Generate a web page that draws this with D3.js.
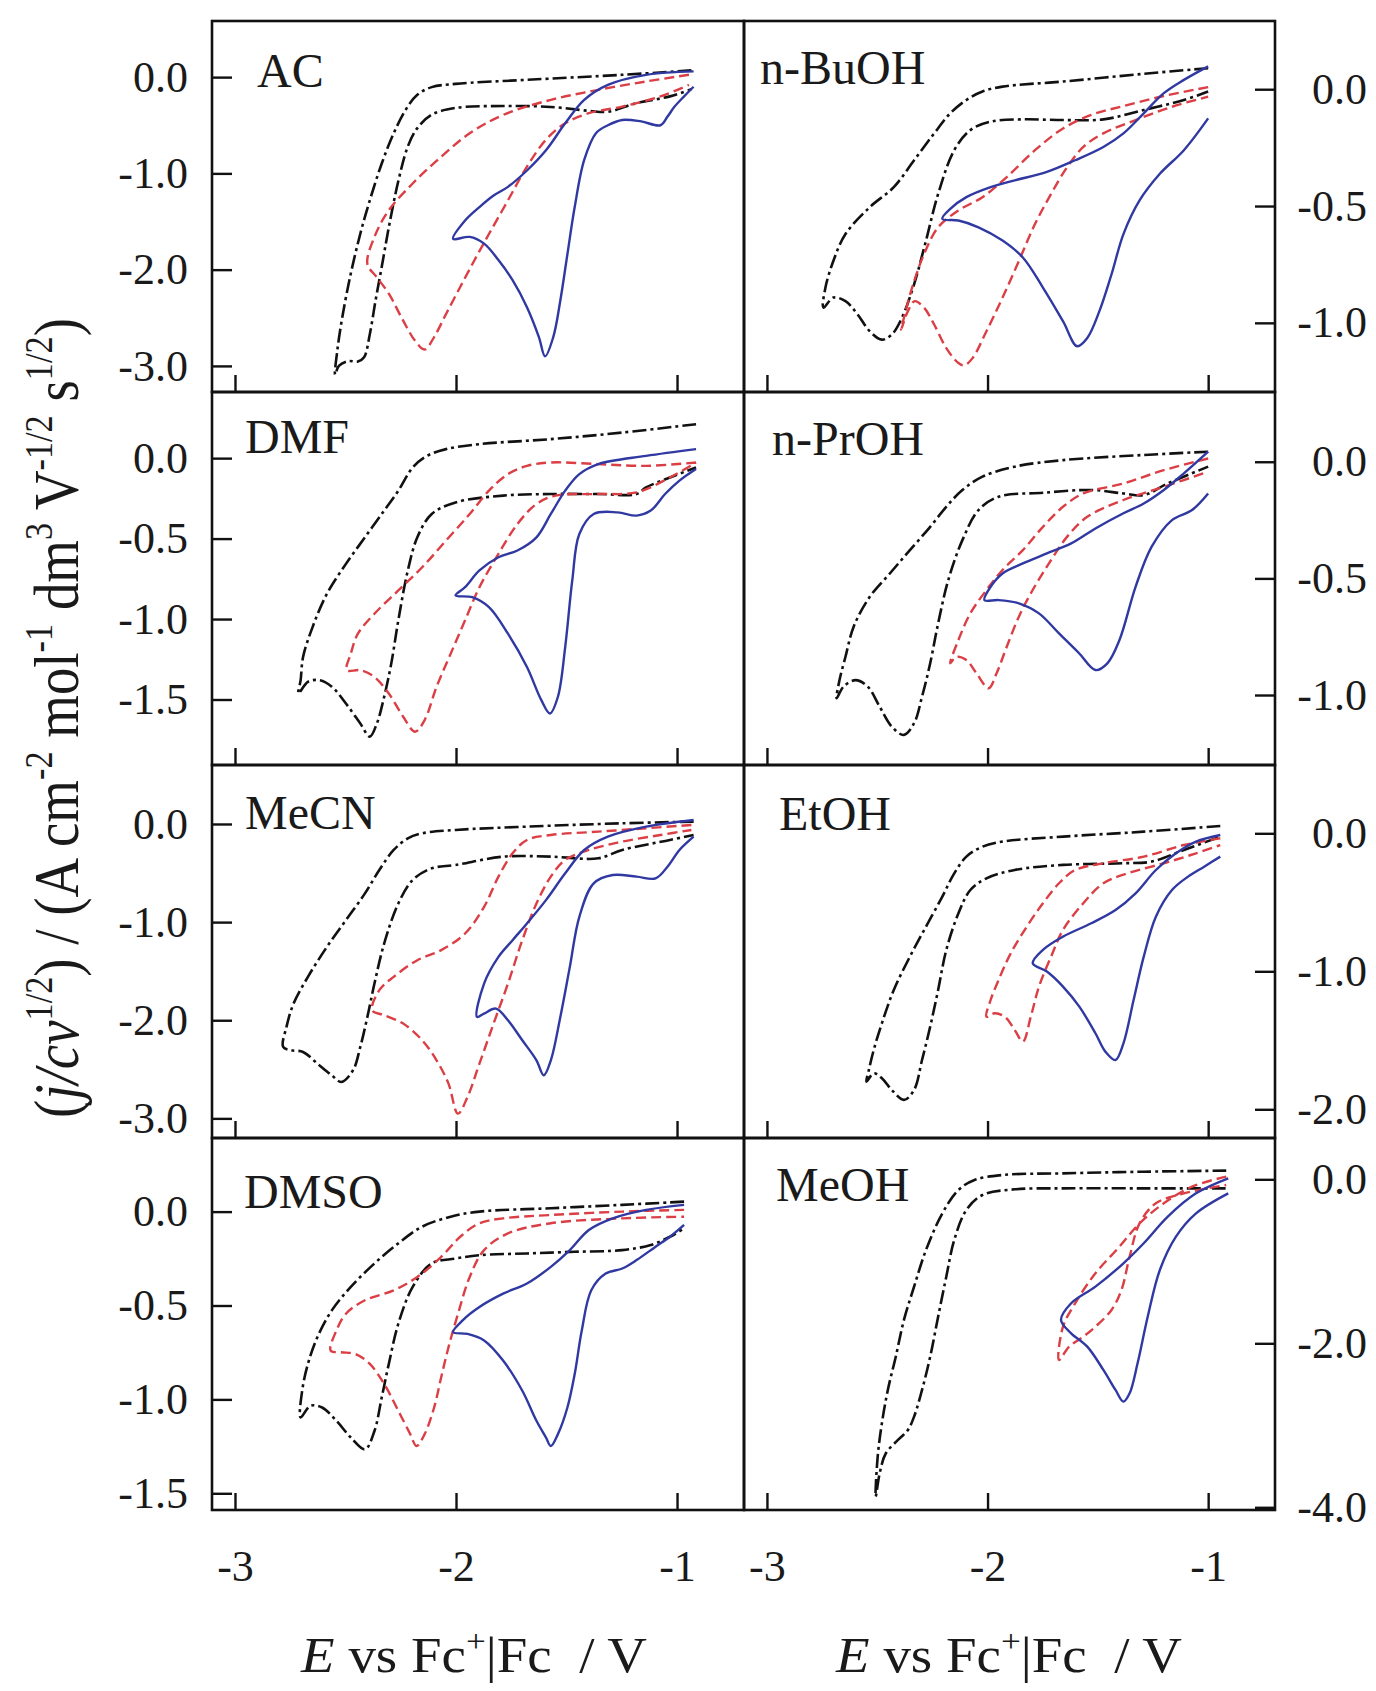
<!DOCTYPE html>
<html>
<head>
<meta charset="utf-8">
<script src="https://cdn.jsdelivr.net/npm/d3@7"></script>
<style>
  body { margin: 0; background: #fff; }
  svg text { font-family: "Liberation Serif", "DejaVu Serif", serif; fill: #1a1a1a; }
</style>
</head>
<body>
<svg id="chart" width="1376" height="1691"></svg>
<script>
// panel order: row by row, left then right
const panelNames = ["AC", "n-BuOH", "DMF", "n-PrOH", "MeCN", "EtOH", "DMSO", "MeOH"];
const yDomains = [[-3.271, 0.583], [-1.296, 0.292], [-1.907, 0.411], [-1.3, 0.299],
                  [-3.2, 0.601], [-2.208, 0.495], [-1.589, 0.392], [-4.033, 0.504]];
const yTicks = [[0, -1, -2, -3], [0, -0.5, -1], [0, -0.5, -1, -1.5], [0, -0.5, -1],
                [0, -1, -2, -3], [0, -1, -2], [0, -0.5, -1, -1.5], [0, -2, -4]];
const xDomain = [-3.104, -0.697];
const xTicks = [-3, -2, -1];

// each curve: [E / V, j/cv^1/2]
const acBlack = [[-0.935,0.07],[-1.248,0.024],[-1.679,-0.028],[-2.002,-0.07],[-2.11,-0.104],[-2.175,-0.184],[-2.228,-0.34],[-2.282,-0.584],[-2.336,-0.897],[-2.39,-1.28],[-2.433,-1.627],[-2.476,-2.04],[-2.515,-2.5],[-2.537,-2.84],[-2.547,-3.09],[-2.53,-3.0],[-2.487,-2.95],[-2.444,-2.955],[-2.416,-2.91],[-2.39,-2.67],[-2.364,-2.32],[-2.336,-1.97],[-2.304,-1.56],[-2.26,-1.07],[-2.218,-0.72],[-2.175,-0.53],[-2.11,-0.39],[-2.002,-0.32],[-1.787,-0.3],[-1.571,-0.31],[-1.399,-0.35],[-1.313,-0.36],[-1.183,-0.27],[-1.032,-0.2],[-0.935,-0.125]];
const acRed = [[-0.946,0.024],[-1.14,-0.045],[-1.356,-0.132],[-1.571,-0.236],[-1.787,-0.393],[-1.938,-0.584],[-2.067,-0.827],[-2.196,-1.105],[-2.304,-1.383],[-2.369,-1.66],[-2.401,-1.94],[-2.358,-2.08],[-2.304,-2.25],[-2.239,-2.53],[-2.185,-2.74],[-2.142,-2.83],[-2.099,-2.7],[-2.045,-2.46],[-1.981,-2.18],[-1.916,-1.9],[-1.851,-1.63],[-1.765,-1.28],[-1.679,-0.93],[-1.593,-0.65],[-1.506,-0.48],[-1.399,-0.375],[-1.248,-0.306],[-1.075,-0.2],[-0.946,-0.08]];
const acBlue = [[-0.925,0.06],[-1.14,0.024],[-1.313,-0.08],[-1.42,-0.236],[-1.506,-0.48],[-1.593,-0.76],[-1.679,-0.97],[-1.765,-1.14],[-1.83,-1.23],[-1.894,-1.35],[-1.959,-1.49],[-2.013,-1.68],[-1.938,-1.66],[-1.873,-1.73],[-1.808,-1.9],[-1.744,-2.11],[-1.679,-2.39],[-1.625,-2.7],[-1.597,-2.9],[-1.56,-2.7],[-1.528,-2.32],[-1.496,-1.84],[-1.463,-1.35],[-1.42,-0.86],[-1.366,-0.58],[-1.313,-0.5],[-1.248,-0.445],[-1.162,-0.46],[-1.075,-0.5],[-1.043,-0.41],[-1.011,-0.306],[-0.968,-0.2],[-0.925,-0.1]];

const buBlack = [[-1.0,0.09],[-1.292,0.066],[-1.657,0.033],[-1.932,0.011],[-2.023,-0.01],[-2.096,-0.046],[-2.169,-0.103],[-2.242,-0.189],[-2.333,-0.304],[-2.425,-0.419],[-2.534,-0.505],[-2.644,-0.62],[-2.699,-0.735],[-2.735,-0.85],[-2.744,-0.935],[-2.699,-0.892],[-2.644,-0.907],[-2.589,-0.964],[-2.534,-1.036],[-2.479,-1.072],[-2.434,-1.05],[-2.388,-0.978],[-2.333,-0.835],[-2.279,-0.648],[-2.224,-0.448],[-2.151,-0.261],[-2.078,-0.175],[-1.986,-0.139],[-1.84,-0.129],[-1.657,-0.132],[-1.475,-0.129],[-1.292,-0.089],[-1.11,-0.046],[-1.0,-0.01]];
const buRed = [[-1.0,0.009],[-1.201,-0.029],[-1.384,-0.072],[-1.53,-0.11],[-1.658,-0.168],[-1.785,-0.261],[-1.913,-0.376],[-2.023,-0.462],[-2.132,-0.519],[-2.224,-0.591],[-2.288,-0.706],[-2.342,-0.849],[-2.379,-0.978],[-2.392,-1.029],[-2.361,-0.95],[-2.33,-0.907],[-2.288,-0.935],[-2.242,-1.007],[-2.187,-1.108],[-2.132,-1.172],[-2.105,-1.182],[-2.068,-1.151],[-2.005,-1.036],[-1.932,-0.892],[-1.858,-0.735],[-1.785,-0.577],[-1.712,-0.448],[-1.639,-0.333],[-1.566,-0.247],[-1.475,-0.189],[-1.329,-0.132],[-1.164,-0.075],[-1.0,-0.032]];
const buBlue = [[-1.0,0.098],[-1.11,0.04],[-1.201,-0.017],[-1.292,-0.103],[-1.384,-0.189],[-1.475,-0.247],[-1.603,-0.304],[-1.731,-0.354],[-1.877,-0.39],[-1.986,-0.419],[-2.096,-0.462],[-2.169,-0.512],[-2.205,-0.555],[-2.132,-0.562],[-2.041,-0.591],[-1.932,-0.648],[-1.84,-0.72],[-1.749,-0.849],[-1.658,-0.993],[-1.594,-1.1],[-1.548,-1.065],[-1.493,-0.95],[-1.438,-0.792],[-1.384,-0.62],[-1.311,-0.476],[-1.219,-0.362],[-1.11,-0.261],[-1.0,-0.125]];

const dmfBlack = [[-0.914,0.211],[-1.248,0.159],[-1.571,0.118],[-1.894,0.087],[-2.045,0.056],[-2.131,0.014],[-2.196,-0.058],[-2.261,-0.202],[-2.325,-0.326],[-2.412,-0.492],[-2.498,-0.657],[-2.584,-0.843],[-2.649,-1.05],[-2.692,-1.236],[-2.703,-1.38],[-2.713,-1.463],[-2.67,-1.39],[-2.616,-1.38],[-2.562,-1.42],[-2.498,-1.525],[-2.433,-1.649],[-2.39,-1.731],[-2.358,-1.649],[-2.325,-1.483],[-2.293,-1.277],[-2.261,-1.008],[-2.218,-0.698],[-2.175,-0.492],[-2.11,-0.347],[-2.002,-0.275],[-1.787,-0.233],[-1.571,-0.223],[-1.356,-0.223],[-1.183,-0.223],[-1.14,-0.182],[-1.032,-0.12],[-0.914,-0.058]];
const dmfRed = [[-0.914,-0.027],[-1.14,-0.048],[-1.356,-0.037],[-1.571,-0.027],[-1.679,-0.048],[-1.765,-0.099],[-1.851,-0.202],[-1.938,-0.347],[-2.045,-0.512],[-2.153,-0.678],[-2.261,-0.822],[-2.369,-0.967],[-2.444,-1.091],[-2.476,-1.215],[-2.494,-1.318],[-2.433,-1.318],[-2.369,-1.36],[-2.304,-1.463],[-2.239,-1.607],[-2.185,-1.7],[-2.142,-1.628],[-2.088,-1.421],[-2.024,-1.215],[-1.959,-1.008],[-1.894,-0.802],[-1.808,-0.595],[-1.722,-0.409],[-1.636,-0.285],[-1.55,-0.233],[-1.356,-0.223],[-1.183,-0.213],[-1.032,-0.12],[-0.914,-0.027]];
const dmfBlue = [[-0.914,0.056],[-1.14,0.014],[-1.356,-0.037],[-1.442,-0.099],[-1.506,-0.202],[-1.571,-0.347],[-1.636,-0.492],[-1.722,-0.574],[-1.808,-0.616],[-1.894,-0.698],[-1.959,-0.802],[-2.002,-0.853],[-1.927,-0.864],[-1.851,-0.926],[-1.765,-1.091],[-1.679,-1.298],[-1.614,-1.504],[-1.575,-1.587],[-1.539,-1.483],[-1.506,-1.174],[-1.474,-0.76],[-1.442,-0.471],[-1.377,-0.347],[-1.269,-0.337],[-1.183,-0.357],[-1.119,-0.326],[-1.054,-0.223],[-0.989,-0.14],[-0.914,-0.068]];

const prBlack = [[-1.0,0.043],[-1.292,0.029],[-1.657,0.007],[-1.877,-0.021],[-2.023,-0.064],[-2.114,-0.121],[-2.187,-0.193],[-2.26,-0.279],[-2.352,-0.379],[-2.443,-0.479],[-2.534,-0.579],[-2.607,-0.707],[-2.644,-0.836],[-2.671,-0.936],[-2.684,-1.014],[-2.653,-0.964],[-2.598,-0.936],[-2.543,-0.964],[-2.489,-1.05],[-2.434,-1.136],[-2.379,-1.171],[-2.333,-1.121],[-2.297,-1.007],[-2.26,-0.864],[-2.224,-0.693],[-2.178,-0.507],[-2.114,-0.336],[-2.041,-0.207],[-1.95,-0.15],[-1.749,-0.133],[-1.53,-0.121],[-1.384,-0.136],[-1.292,-0.143],[-1.183,-0.093],[-1.0,-0.021]];
const prRed = [[-1.0,0.014],[-1.201,-0.036],[-1.384,-0.093],[-1.566,-0.136],[-1.658,-0.193],[-1.749,-0.279],[-1.84,-0.379],[-1.932,-0.464],[-2.005,-0.55],[-2.078,-0.65],[-2.132,-0.764],[-2.169,-0.864],[-2.142,-0.836],[-2.096,-0.85],[-2.05,-0.907],[-1.995,-0.971],[-1.959,-0.907],[-1.913,-0.793],[-1.858,-0.664],[-1.804,-0.564],[-1.731,-0.45],[-1.639,-0.321],[-1.548,-0.236],[-1.384,-0.164],[-1.201,-0.107],[-1.0,-0.043]];
const prBlue = [[-1.0,0.043],[-1.11,-0.05],[-1.201,-0.121],[-1.292,-0.179],[-1.384,-0.221],[-1.511,-0.286],[-1.621,-0.35],[-1.731,-0.393],[-1.84,-0.436],[-1.932,-0.479],[-1.986,-0.536],[-2.014,-0.593],[-1.95,-0.593],[-1.858,-0.607],[-1.767,-0.65],[-1.676,-0.736],[-1.585,-0.821],[-1.511,-0.893],[-1.457,-0.864],[-1.402,-0.764],[-1.329,-0.536],[-1.256,-0.364],[-1.164,-0.25],[-1.073,-0.207],[-1.0,-0.136]];

const mecnBlack = [[-0.925,0.024],[-1.248,0.007],[-1.679,-0.027],[-2.002,-0.061],[-2.153,-0.095],[-2.218,-0.146],[-2.282,-0.265],[-2.347,-0.469],[-2.412,-0.707],[-2.498,-0.98],[-2.584,-1.252],[-2.67,-1.558],[-2.735,-1.83],[-2.767,-2.068],[-2.782,-2.272],[-2.746,-2.306],[-2.692,-2.323],[-2.627,-2.442],[-2.562,-2.561],[-2.519,-2.629],[-2.466,-2.51],[-2.433,-2.272],[-2.401,-1.966],[-2.369,-1.626],[-2.325,-1.218],[-2.261,-0.81],[-2.196,-0.571],[-2.11,-0.452],[-2.002,-0.418],[-1.787,-0.333],[-1.571,-0.333],[-1.356,-0.35],[-1.248,-0.265],[-1.032,-0.163],[-0.925,-0.112]];
const mecnRed = [[-0.935,-0.01],[-1.14,-0.044],[-1.356,-0.078],[-1.571,-0.112],[-1.679,-0.163],[-1.744,-0.299],[-1.808,-0.537],[-1.873,-0.844],[-1.959,-1.116],[-2.067,-1.286],[-2.175,-1.388],[-2.282,-1.558],[-2.347,-1.694],[-2.379,-1.898],[-2.325,-1.949],[-2.239,-2.034],[-2.153,-2.204],[-2.088,-2.408],[-2.034,-2.646],[-1.991,-2.952],[-1.948,-2.782],[-1.894,-2.442],[-1.83,-2.034],[-1.765,-1.626],[-1.7,-1.184],[-1.636,-0.81],[-1.571,-0.537],[-1.506,-0.367],[-1.399,-0.265],[-1.248,-0.18],[-1.075,-0.112],[-0.935,-0.061]];
const mecnBlue = [[-0.925,0.041],[-1.14,-0.027],[-1.313,-0.129],[-1.42,-0.265],[-1.506,-0.503],[-1.593,-0.776],[-1.679,-1.014],[-1.744,-1.184],[-1.808,-1.354],[-1.873,-1.626],[-1.905,-1.966],[-1.873,-1.932],[-1.819,-1.881],[-1.765,-2.0],[-1.7,-2.204],[-1.636,-2.408],[-1.603,-2.561],[-1.571,-2.408],[-1.528,-1.966],[-1.485,-1.456],[-1.442,-0.946],[-1.377,-0.605],[-1.291,-0.52],[-1.183,-0.537],[-1.097,-0.554],[-1.043,-0.435],[-0.989,-0.265],[-0.925,-0.129]];

const etBlack = [[-0.945,0.053],[-1.292,0.012],[-1.657,-0.024],[-1.932,-0.06],[-2.023,-0.097],[-2.096,-0.169],[-2.151,-0.29],[-2.205,-0.459],[-2.279,-0.676],[-2.352,-0.894],[-2.425,-1.135],[-2.479,-1.377],[-2.516,-1.57],[-2.538,-1.715],[-2.549,-1.8],[-2.516,-1.739],[-2.479,-1.775],[-2.434,-1.86],[-2.379,-1.932],[-2.333,-1.86],[-2.297,-1.643],[-2.26,-1.401],[-2.224,-1.135],[-2.187,-0.845],[-2.132,-0.58],[-2.078,-0.411],[-2.005,-0.326],[-1.877,-0.266],[-1.658,-0.229],[-1.384,-0.217],[-1.256,-0.205],[-1.11,-0.121],[-0.945,-0.024]];
const etRed = [[-0.945,-0.036],[-1.11,-0.085],[-1.292,-0.169],[-1.475,-0.217],[-1.603,-0.266],[-1.676,-0.362],[-1.749,-0.507],[-1.822,-0.676],[-1.895,-0.87],[-1.95,-1.063],[-1.986,-1.208],[-2.005,-1.329],[-1.968,-1.304],[-1.922,-1.329],[-1.877,-1.425],[-1.84,-1.51],[-1.804,-1.329],[-1.767,-1.111],[-1.712,-0.894],[-1.658,-0.7],[-1.566,-0.507],[-1.475,-0.362],[-1.366,-0.29],[-1.201,-0.217],[-1.055,-0.145],[-0.945,-0.085]];
const etBlue = [[-0.945,-0.012],[-1.055,-0.06],[-1.146,-0.145],[-1.237,-0.266],[-1.329,-0.435],[-1.42,-0.556],[-1.53,-0.652],[-1.658,-0.749],[-1.749,-0.845],[-1.795,-0.942],[-1.731,-1.002],[-1.658,-1.111],[-1.584,-1.256],[-1.511,-1.449],[-1.466,-1.582],[-1.42,-1.643],[-1.384,-1.522],[-1.338,-1.208],[-1.292,-0.894],[-1.237,-0.604],[-1.164,-0.411],[-1.091,-0.314],[-1.018,-0.242],[-0.945,-0.169]];

const dmsoBlack = [[-0.968,0.053],[-1.248,0.036],[-1.571,0.018],[-1.894,0.0],[-2.024,-0.027],[-2.153,-0.08],[-2.261,-0.169],[-2.369,-0.276],[-2.476,-0.401],[-2.562,-0.526],[-2.627,-0.668],[-2.67,-0.811],[-2.696,-0.954],[-2.703,-1.096],[-2.659,-1.034],[-2.606,-1.043],[-2.541,-1.114],[-2.476,-1.203],[-2.412,-1.266],[-2.369,-1.168],[-2.336,-0.989],[-2.304,-0.811],[-2.261,-0.597],[-2.196,-0.401],[-2.11,-0.276],[-2.002,-0.25],[-1.894,-0.232],[-1.679,-0.223],[-1.463,-0.214],[-1.248,-0.205],[-1.119,-0.178],[-1.032,-0.134],[-0.968,-0.089]];
const dmsoRed = [[-0.968,0.009],[-1.248,0.0],[-1.571,-0.018],[-1.787,-0.036],[-1.894,-0.062],[-1.981,-0.134],[-2.067,-0.241],[-2.175,-0.348],[-2.282,-0.419],[-2.412,-0.472],[-2.498,-0.544],[-2.541,-0.633],[-2.567,-0.74],[-2.519,-0.749],[-2.455,-0.758],[-2.39,-0.811],[-2.325,-0.918],[-2.261,-1.061],[-2.207,-1.185],[-2.179,-1.248],[-2.142,-1.185],[-2.099,-1.043],[-2.067,-0.882],[-2.034,-0.722],[-1.991,-0.544],[-1.938,-0.348],[-1.873,-0.205],[-1.765,-0.116],[-1.571,-0.062],[-1.248,-0.036],[-0.968,-0.027]];
const dmsoBlue = [[-0.968,0.036],[-1.14,0.009],[-1.291,-0.036],[-1.399,-0.098],[-1.485,-0.205],[-1.571,-0.294],[-1.679,-0.383],[-1.787,-0.437],[-1.894,-0.508],[-1.97,-0.579],[-2.013,-0.642],[-1.948,-0.651],[-1.873,-0.686],[-1.787,-0.793],[-1.7,-0.954],[-1.636,-1.114],[-1.593,-1.203],[-1.571,-1.248],[-1.539,-1.185],[-1.496,-1.043],[-1.463,-0.865],[-1.431,-0.633],[-1.388,-0.419],[-1.323,-0.33],[-1.248,-0.303],[-1.183,-0.258],[-1.097,-0.187],[-1.032,-0.134],[-0.968,-0.071]];

const meBlack = [[-0.918,0.106],[-1.292,0.093],[-1.658,0.073],[-1.932,0.053],[-2.059,-0.008],[-2.132,-0.13],[-2.205,-0.415],[-2.279,-0.862],[-2.333,-1.309],[-2.379,-1.715],[-2.416,-2.163],[-2.452,-2.569],[-2.479,-2.976],[-2.498,-3.382],[-2.507,-3.87],[-2.489,-3.585],[-2.461,-3.341],[-2.406,-3.179],[-2.361,-3.057],[-2.333,-2.894],[-2.297,-2.569],[-2.26,-2.163],[-2.224,-1.675],[-2.187,-1.187],[-2.151,-0.74],[-2.096,-0.374],[-2.023,-0.191],[-1.877,-0.122],[-1.658,-0.11],[-1.292,-0.11],[-0.918,-0.11]];
const meRed = [[-0.918,0.033],[-1.073,-0.089],[-1.201,-0.293],[-1.311,-0.537],[-1.402,-0.821],[-1.511,-1.146],[-1.603,-1.512],[-1.658,-1.797],[-1.676,-2.203],[-1.63,-2.041],[-1.566,-1.919],[-1.511,-1.797],[-1.438,-1.593],[-1.393,-1.35],[-1.356,-0.943],[-1.311,-0.537],[-1.237,-0.293],[-1.11,-0.171],[-0.918,-0.069]];
const meBlue = [[-0.909,0.012],[-1.055,-0.171],[-1.183,-0.455],[-1.292,-0.78],[-1.384,-1.024],[-1.511,-1.309],[-1.621,-1.512],[-1.667,-1.715],[-1.621,-1.878],[-1.548,-2.041],[-1.475,-2.325],[-1.42,-2.569],[-1.384,-2.711],[-1.356,-2.61],[-1.32,-2.244],[-1.274,-1.675],[-1.219,-1.106],[-1.146,-0.699],[-1.055,-0.415],[-0.909,-0.171]];

const blackCurves = [acBlack, buBlack, dmfBlack, prBlack, mecnBlack, etBlack, dmsoBlack, meBlack];
const redCurves = [acRed, buRed, dmfRed, prRed, mecnRed, etRed, dmsoRed, meRed];
const blueCurves = [acBlue, buBlue, dmfBlue, prBlue, mecnBlue, etBlue, dmsoBlue, meBlue];

// layout
const colX = [212, 744, 1275];
const rowY = [21, 392, 765, 1138, 1510];
const labelPos = [[257, 87], [760, 84], [245, 453], [772, 455], [245, 829], [779, 830], [244, 1208], [776, 1201]];
const FONT = '"Liberation Serif", "DejaVu Serif", serif';

const svg = d3.select("#chart");

panelNames.forEach(function (name, i) {
    let col = i % 2, row = Math.floor(i / 2);
    let x0 = colX[col], x1 = colX[col + 1];
    let y0 = rowY[row], y1 = rowY[row + 1];

    let x = d3.scaleLinear().domain(xDomain).range([x0, x1]);
    let y = d3.scaleLinear().domain(yDomains[i]).range([y1, y0]);
    let g = svg.append("g").attr("class", "panel");

    let line = d3.line()
        .x(d => x(d[0]))
        .y(d => y(d[1]))
        .curve(d3.curveCatmullRom.alpha(0.5));

    g.append("path").datum(blackCurves[i])
        .attr("d", line).attr("fill", "none")
        .attr("stroke", "#111").attr("stroke-width", 2.6)
        .attr("stroke-dasharray", "14,4,3,4");
    g.append("path").datum(redCurves[i])
        .attr("d", line).attr("fill", "none")
        .attr("stroke", "#db3f45").attr("stroke-width", 2.4)
        .attr("stroke-dasharray", "10,5");
    g.append("path").datum(blueCurves[i])
        .attr("d", line).attr("fill", "none")
        .attr("stroke", "#3039a2").attr("stroke-width", 2.4);

    // y axis, ticks inside
    let yAxis = col === 0
        ? d3.axisLeft(y).tickSize(-20).tickPadding(24)
        : d3.axisRight(y).tickSize(-20).tickPadding(24);
    yAxis.tickValues(yTicks[i]).tickFormat(d => d.toFixed(1));
    let ya = g.append("g")
        .attr("transform", "translate(" + (col === 0 ? x0 : x1) + ",0)")
        .call(yAxis);
    ya.select(".domain").remove();
    ya.selectAll("line").attr("stroke", "#111").attr("stroke-width", 2.4);
    ya.selectAll("text").attr("font-family", FONT).attr("font-size", 44).attr("fill", "#1a1a1a");
    if (col === 1) {
        ya.selectAll("text").attr("text-anchor", "end").attr("x", 92);
    }

    // x axis at bottom of every panel, labels only on last row
    let xAxis = d3.axisBottom(x).tickValues(xTicks).tickSize(-17).tickPadding(40)
        .tickFormat(row === 3 ? (d => String(d)) : "");
    let xa = g.append("g")
        .attr("transform", "translate(0," + y1 + ")")
        .call(xAxis);
    xa.select(".domain").remove();
    xa.selectAll("line").attr("stroke", "#111").attr("stroke-width", 2.4);
    xa.selectAll("text").attr("font-family", FONT).attr("font-size", 44).attr("fill", "#1a1a1a");

    g.append("rect")
        .attr("x", x0).attr("y", y0)
        .attr("width", x1 - x0).attr("height", y1 - y0)
        .attr("fill", "none").attr("stroke", "#111").attr("stroke-width", 2.6);

    g.append("text")
        .attr("x", labelPos[i][0]).attr("y", labelPos[i][1])
        .attr("font-size", 48)
        .text(name);
});

// y axis title (rotated), fitted to the reference length
let yt = svg.append("g");
let ytText = yt.append("text").attr("text-anchor", "middle").attr("font-size", 64);
function addRun(t, s, opts) {
    let ts = t.append("tspan").text(s);
    if (opts && opts.italic) ts.attr("font-style", "italic");
    if (opts && opts.sup) ts.attr("font-size", 40).attr("dy", -26);
    if (opts && opts.down) ts.attr("dy", 26);
    return ts;
}
addRun(ytText, "(");
addRun(ytText, "j/cv", {italic: true});
addRun(ytText, "1/2", {sup: true});
addRun(ytText, ") / (A cm", {down: true});
addRun(ytText, "-2", {sup: true});
addRun(ytText, " mol", {down: true});
addRun(ytText, "-1", {sup: true});
addRun(ytText, " dm", {down: true});
addRun(ytText, "3", {sup: true});
addRun(ytText, " V", {down: true});
addRun(ytText, "-1/2", {sup: true});
addRun(ytText, " s", {down: true});
addRun(ytText, "1/2", {sup: true});
addRun(ytText, ")", {down: true});
let ytw = ytText.node().getComputedTextLength();
yt.attr("transform", "translate(78,718) rotate(-90) scale(" + (800 / ytw) + ",1)");

// x axis titles
[474, 1009].forEach(function (cx) {
    let xt = svg.append("g");
    let t = xt.append("text").attr("text-anchor", "middle").attr("font-size", 50)
        .style("white-space", "pre");
    t.append("tspan").attr("font-style", "italic").text("E");
    t.append("tspan").text(" vs Fc");
    t.append("tspan").attr("font-size", 32).attr("dy", -20).text("+");
    t.append("tspan").attr("dy", 20).text("|Fc  / V");
    let w = t.node().getComputedTextLength();
    xt.attr("transform", "translate(" + cx + ",1672) scale(" + (346 / w) + ",1)");
});
</script>
</body>
</html>
